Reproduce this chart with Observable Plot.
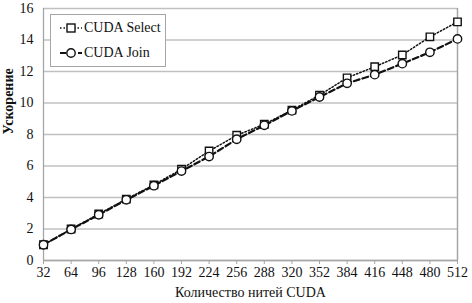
<!DOCTYPE html>
<html>
<head>
<meta charset="utf-8">
<script src="https://cdn.jsdelivr.net/npm/d3@7"></script>
<script src="https://cdn.jsdelivr.net/npm/@observablehq/plot@0.6"></script>
</head>
<body style="margin:0;background:#fff;font-family:'Liberation Serif',serif">
<div id="wrap" style="position:relative;width:472px;height:303px;font-family:'Liberation Serif',serif"></div>
<script>
const threads = [32, 64, 96, 128, 160, 192, 224, 256, 288, 320, 352, 384, 416, 448, 480, 512];
const selectSpeedup = [1.0, 2.0, 2.95, 3.9, 4.8, 5.8, 6.95, 7.95, 8.65, 9.55, 10.5, 11.6, 12.3, 13.05, 14.2, 15.15];
const joinSpeedup = [1.0, 1.97, 2.9, 3.85, 4.75, 5.68, 6.6, 7.7, 8.58, 9.5, 10.38, 11.25, 11.8, 12.5, 13.22, 14.07];
const yTicks = [0, 2, 4, 6, 8, 10, 12, 14, 16];
const seriesNames = ["CUDA Select", "CUDA Join"];
const xTitle = "Количество нитей CUDA";
const yTitle = "Ускорение";

const sel = threads.map((t, i) => ({t, v: selectSpeedup[i]}));
const join = threads.map((t, i) => ({t, v: joinSpeedup[i]}));

const FONT = "Liberation Serif";
try { document.fonts.load("14px 'Liberation Serif'"); document.fonts.load("bold 14px 'Liberation Serif'"); } catch (e) {}

const chart = Plot.plot({
  width: 472,
  height: 303,
  marginLeft: 43,
  marginRight: 15,
  marginTop: 8,
  marginBottom: 43,
  style: { fontFamily: FONT, fontSize: "14px", color: "#111", background: "#fff" },
  x: { type: "linear", domain: [32, 512] },
  y: { domain: [0, 16] },
  marks: [
    Plot.ruleY(yTicks, { stroke: "#c0c0c0", strokeWidth: 1.3 }),
    Plot.ruleX([32], { stroke: "#a6a6a6", strokeWidth: 1.3 }),
    Plot.ruleX([512], { stroke: "#a6a6a6", strokeWidth: 1.5 }),
    Plot.ruleY([0], { stroke: "#a6a6a6", strokeWidth: 1.3 }),
    Plot.axisX({ ticks: threads, tickFormat: d => String(d), tickSize: 4, tickPadding: 3, stroke: "#a6a6a6", fontSize: 14, fontFamily: FONT, label: null }),
    Plot.axisY({ ticks: yTicks, tickSize: 0, tickPadding: 10, fontSize: 14, fontFamily: FONT, label: null }),
    Plot.text([xTitle], { frameAnchor: "bottom", dy: 36, fontSize: 14, fontFamily: FONT }),
    Plot.text([yTitle], { frameAnchor: "left", dx: -35, rotate: -90, fontSize: 14, fontWeight: "bold", fontFamily: FONT }),
    Plot.line(sel, { x: "t", y: "v", stroke: "#111", strokeWidth: 1.5, strokeDasharray: "1.5,2" }),
    Plot.line(join, { x: "t", y: "v", stroke: "#111", strokeWidth: 2.2, strokeDasharray: "6,3" }),
    Plot.dot(sel, { x: "t", y: "v", symbol: "square", r: 4.2, fill: "#fff", stroke: "#111", strokeWidth: 1.4 }),
    Plot.dot(join, { x: "t", y: "v", symbol: "circle", r: 4.2, fill: "#fff", stroke: "#111", strokeWidth: 1.4 })
  ]
});

const wrap = document.getElementById("wrap");
wrap.appendChild(chart);
d3.select(chart).selectAll("text").attr("font-family", FONT).style("font-family", "'Liberation Serif', serif");

const legend = document.createElement("div");
legend.setAttribute("style", "position:absolute;left:50px;top:14px;width:116px;height:53px;border:1px solid #a6a6a6;background:#fff;box-sizing:border-box;font-size:14px;color:#111;font-family:'Liberation Serif',serif");
const samples = [
  `<svg width="24" height="14"><line x1="1" y1="7" x2="23" y2="7" stroke="#111" stroke-width="1.5" stroke-dasharray="1.5,2"/><rect x="8" y="3" width="8" height="8" fill="#fff" stroke="#111" stroke-width="1.4"/></svg>`,
  `<svg width="24" height="14"><line x1="1" y1="7" x2="23" y2="7" stroke="#111" stroke-width="2.2" stroke-dasharray="6,3"/><circle cx="12" cy="7" r="4.2" fill="#fff" stroke="#111" stroke-width="1.4"/></svg>`
];
seriesNames.forEach((name, i) => {
  const it = document.createElement("div");
  it.setAttribute("style", `position:absolute;left:8px;top:${i === 0 ? 5 : 30}px;display:flex;align-items:center;font-family:'Liberation Serif',serif`);
  it.innerHTML = samples[i] + `<span style="margin-left:1px">${name}</span>`;
  legend.appendChild(it);
});
wrap.appendChild(legend);
</script>
</body>
</html>
